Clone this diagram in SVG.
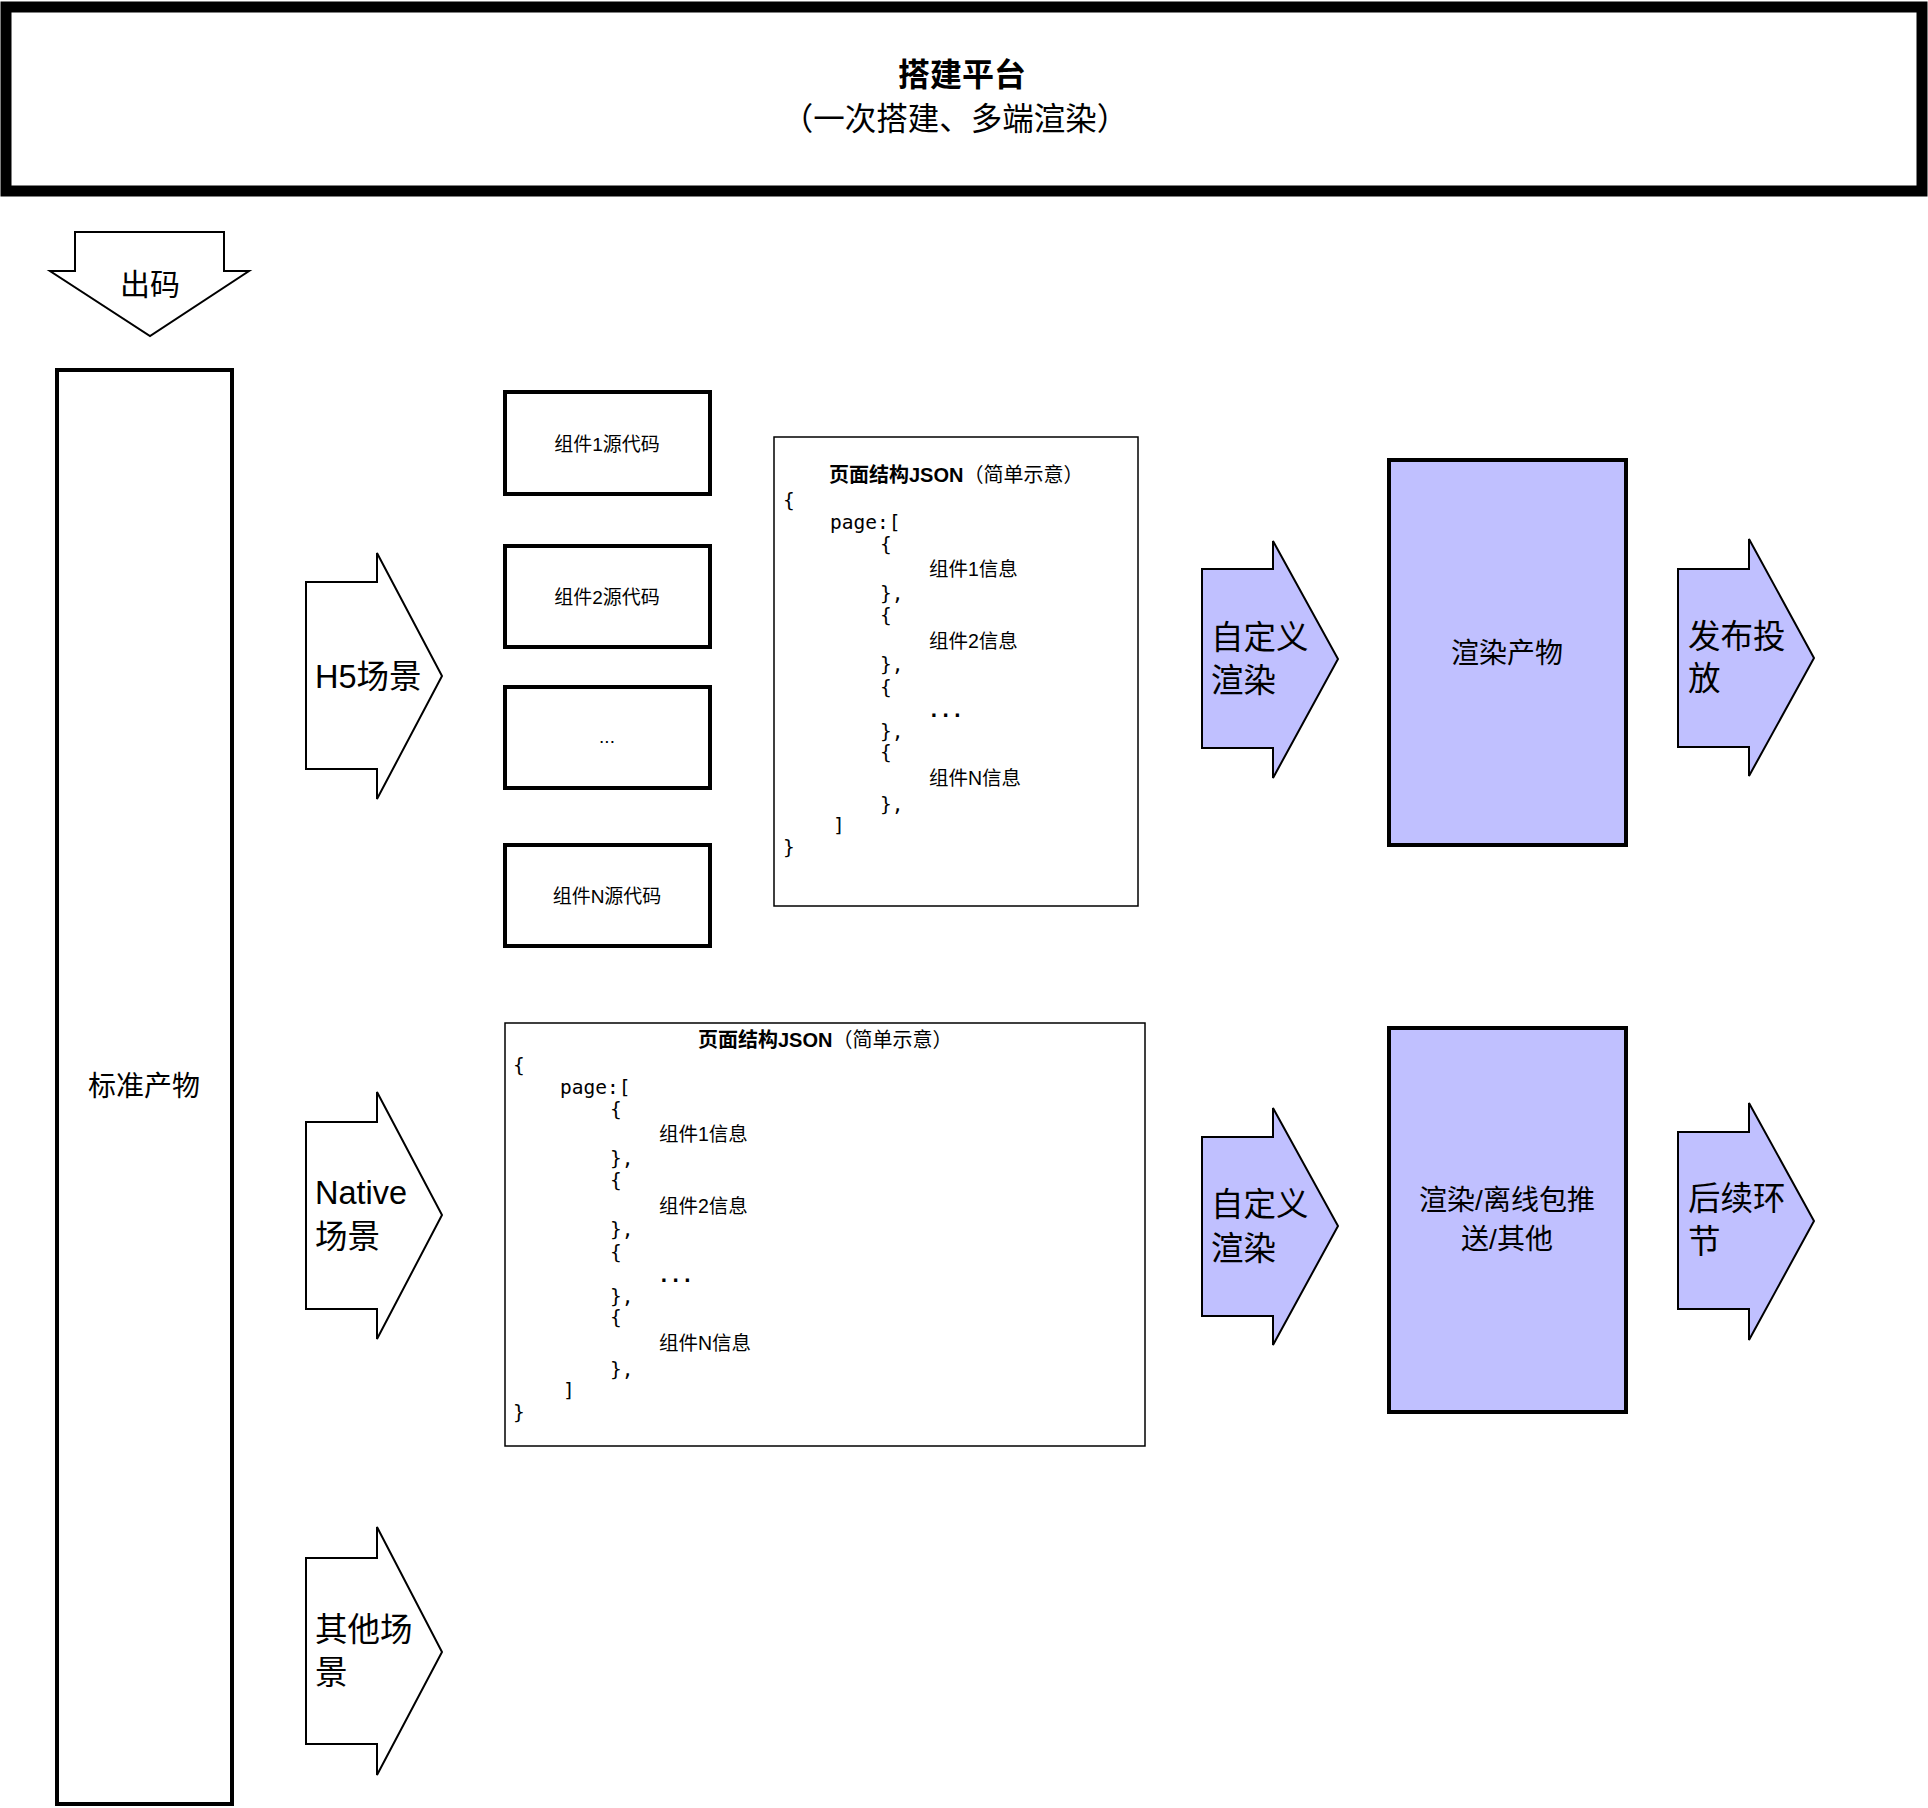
<svg xmlns="http://www.w3.org/2000/svg" width="1928" height="1808" viewBox="0 0 1928 1808">
<style>
text{font-family:"Liberation Sans","Noto Sans CJK SC",sans-serif;fill:#000;dominant-baseline:central}
.mono{font-family:"DejaVu Sans Mono","Liberation Mono",monospace;font-size:19.5px}
.cj{font-size:19.5px}
.box{fill:#fff;stroke:#000;stroke-width:4}
.thin{fill:#fff;stroke:#000;stroke-width:1.5}
.arw{fill:#fff;stroke:#000;stroke-width:2}
.parw{fill:#C0C0FF;stroke:#000;stroke-width:2}
.pbox{fill:#C0C0FF;stroke:#000;stroke-width:4}
.big{font-size:32.5px}
.mid{font-size:28px}
.sm{font-size:19px}
.ttl{font-size:20px}
</style>
<rect width="1928" height="1808" fill="#fff"/>
<g id="platform">
<rect x="6" y="7" width="1916" height="184" fill="#fff" stroke="#000" stroke-width="11"/>
<text x="962" y="75" text-anchor="middle" font-size="32" font-weight="bold">搭建平台</text>
<text x="955" y="119" text-anchor="middle" font-size="31.5">（一次搭建、多端渲染）</text>
</g>
<g id="chuma">
<path class="arw" d="M75,232 H224 V271 H249 L150,336 L50,271 H75 Z"/>
<text x="150" y="284" text-anchor="middle" font-size="30">出码</text>
</g>
<g id="standard">
<rect class="box" x="57" y="370" width="175" height="1434"/>
<text class="mid" x="144" y="1086" text-anchor="middle">标准产物</text>
</g>
<g id="h5">
<path class="arw" d="M306,582 H377 V553 L442,676 L377,799 V769 H306 Z"/>
<text class="big" x="315" y="677">H5场景</text>
</g>
<g id="native">
<path class="arw" d="M306,1122 H377 V1092 L442,1215 L377,1339 V1309 H306 Z"/>
<text class="big" x="315" y="1193">Native</text>
<text class="big" x="315" y="1237">场景</text>
</g>
<g id="other">
<path class="arw" d="M306,1558 H377 V1527 L442,1652 L377,1775 V1744 H306 Z"/>
<text class="big" x="315" y="1630">其他场</text>
<text class="big" x="315" y="1673">景</text>
</g>
<g id="comp1"><rect class="box" x="505" y="392" width="205" height="102"/><text class="sm" x="607" y="444" text-anchor="middle">组件1源代码</text></g>
<g id="comp2"><rect class="box" x="505" y="546" width="205" height="101"/><text class="sm" x="607" y="597" text-anchor="middle">组件2源代码</text></g>
<g id="comp3"><rect class="box" x="505" y="687" width="205" height="101"/><text class="sm" x="607" y="736" text-anchor="middle">...</text></g>
<g id="compN"><rect class="box" x="505" y="845" width="205" height="101"/><text class="sm" x="607" y="896" text-anchor="middle">组件N源代码</text></g>
<defs>
<g id="code">
<text class="mono" x="-2" y="0">{</text>
<text class="mono" x="45" y="22">page:[</text>
<text class="mono" x="95" y="44">{</text>
<text class="cj" x="144" y="69">组件1信息</text>
<text class="mono" x="95" y="93">},</text>
<text class="mono" x="95" y="115">{</text>
<text class="cj" x="144" y="141">组件2信息</text>
<text class="mono" x="95" y="164">},</text>
<text class="mono" x="95" y="187">{</text>
<text class="mono" x="143" y="210" font-weight="bold">...</text>
<text class="mono" x="95" y="231">},</text>
<text class="mono" x="95" y="252">{</text>
<text class="cj" x="144" y="278">组件N信息</text>
<text class="mono" x="95" y="304">},</text>
<text class="mono" x="48" y="325">]</text>
<text class="mono" x="-2" y="347">}</text>
</g>
</defs>
<g id="json1">
<rect class="thin" x="774" y="437" width="364" height="469"/>
<text class="ttl" x="829" y="475"><tspan font-weight="bold">页面结构JSON</tspan>（简单示意）</text>
<use href="#code" transform="translate(785,500)"/>
</g>
<g id="json2">
<rect class="thin" x="505" y="1023" width="640" height="423"/>
<text class="ttl" x="698" y="1040"><tspan font-weight="bold">页面结构JSON</tspan>（简单示意）</text>
<use href="#code" transform="translate(515,1065)"/>
</g>
<g id="render1">
<path class="parw" d="M1202,569 H1273 V541 L1338,659 L1273,778 V748 H1202 Z"/>
<text class="big" x="1211" y="638">自定义</text>
<text class="big" x="1211" y="681">渲染</text>
</g>
<g id="output1">
<rect class="pbox" x="1389" y="460" width="237" height="385"/>
<text class="mid" x="1507" y="653" text-anchor="middle">渲染产物</text>
</g>
<g id="publish">
<path class="parw" d="M1678,569 H1749 V539 L1814,658 L1749,776 V747 H1678 Z"/>
<text class="big" x="1688" y="637">发布投</text>
<text class="big" x="1688" y="679">放</text>
</g>
<g id="render2">
<path class="parw" d="M1202,1137 H1273 V1108 L1338,1226 L1273,1345 V1316 H1202 Z"/>
<text class="big" x="1211" y="1205">自定义</text>
<text class="big" x="1211" y="1249">渲染</text>
</g>
<g id="output2">
<rect class="pbox" x="1389" y="1028" width="237" height="384"/>
<text class="mid" x="1507" y="1200" text-anchor="middle">渲染/离线包推</text>
<text class="mid" x="1507" y="1239" text-anchor="middle">送/其他</text>
</g>
<g id="next">
<path class="parw" d="M1678,1132 H1749 V1103 L1814,1221 L1749,1340 V1309 H1678 Z"/>
<text class="big" x="1688" y="1199">后续环</text>
<text class="big" x="1688" y="1242">节</text>
</g>
<g id="connectors"/>
</svg>
